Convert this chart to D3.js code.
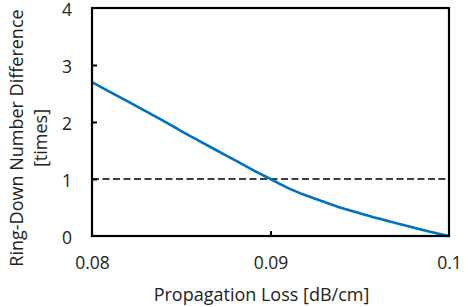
<!DOCTYPE html>
<html>
<head>
<meta charset="utf-8">
<script src="https://cdn.jsdelivr.net/npm/d3@7"></script>
<style>
  html, body { margin: 0; padding: 0; background: #fff; }
  svg text { font-family: "Open Sans", "Noto Sans", sans-serif; fill: #222; }
</style>
</head>
<body>
<script>
// Data
var lossValues = [0.080, 0.081, 0.082, 0.083, 0.084, 0.085, 0.086, 0.087, 0.088, 0.089, 0.090,
                  0.091, 0.092, 0.093, 0.094, 0.095, 0.096, 0.097, 0.098, 0.099, 0.100];
var ringDownDiff = [2.70, 2.53, 2.36, 2.19, 2.02, 1.84, 1.67, 1.50, 1.33, 1.16, 1.00,
                    0.84, 0.71, 0.60, 0.49, 0.40, 0.31, 0.23, 0.15, 0.07, 0.00];
var thresholdValue = 1;
var xTicks = [0.08, 0.09, 0.1];
var xTickLabels = ["0.08", "0.09", "0.1"];
var yTicks = [0, 1, 2, 3, 4];

var width = 468, height = 307;
var margin = {top: 8, right: 19, bottom: 71, left: 92};
var w = width - margin.left - margin.right,
    h = height - margin.top - margin.bottom;

var svg = d3.select("body").append("svg")
    .attr("width", width)
    .attr("height", height);

var g = svg.append("g")
    .attr("transform", "translate(" + margin.left + "," + margin.top + ")");

var xScale = d3.scaleLinear().domain([0.08, 0.1]).range([0, w]);
var yScale = d3.scaleLinear().domain([0, 4]).range([h, 0]);

// Axes (ticks inward)
var xAxis = d3.axisBottom(xScale).tickValues(xTicks)
    .tickFormat(function(d, i) { return xTickLabels[i]; })
    .tickSizeInner(-5).tickSizeOuter(0).tickPadding(21);
var yAxis = d3.axisLeft(yScale).tickValues(yTicks)
    .tickFormat(d3.format("d"))
    .tickSizeInner(-5).tickSizeOuter(0).tickPadding(20);

var gx = g.append("g").attr("class", "x axis")
    .attr("transform", "translate(0," + h + ")")
    .call(xAxis);
var gy = g.append("g").attr("class", "y axis").call(yAxis);

g.selectAll(".domain").remove();
g.selectAll(".tick line").attr("stroke", "#000").attr("stroke-width", 2);
g.selectAll(".tick text").style("font-size", "17.5px").attr("fill", "#222");
// end ticks sit on the frame, drop them
gx.selectAll(".tick line").filter(function(d) { return d === 0.08 || d === 0.1; }).remove();
gy.selectAll(".tick line").filter(function(d) { return d === 0 || d === 4; }).remove();
gx.selectAll(".tick text").attr("dy", "0.71em");
gy.selectAll(".tick text").attr("dy", "0.42em");

// Dashed threshold line
g.append("line")
    .attr("x1", 0).attr("x2", w)
    .attr("y1", yScale(thresholdValue)).attr("y2", yScale(thresholdValue))
    .attr("stroke", "#000")
    .attr("stroke-width", 1.6)
    .attr("stroke-dasharray", "7,3.5");

// Curve
var line = d3.line()
    .x(function(d, i) { return xScale(lossValues[i]); })
    .y(function(d) { return yScale(d); })
    .curve(d3.curveMonotoneX);

g.append("path")
    .datum(ringDownDiff)
    .attr("d", line)
    .attr("fill", "none")
    .attr("stroke", "#0070C0")
    .attr("stroke-width", 2.6);

// Frame
g.append("rect")
    .attr("x", 0).attr("y", 0)
    .attr("width", w).attr("height", h)
    .attr("fill", "none")
    .attr("stroke", "#000")
    .attr("stroke-width", 2.2);

// Axis titles
svg.append("text")
    .attr("x", margin.left + w / 2 - 9)
    .attr("y", 301)
    .attr("text-anchor", "middle")
    .style("font-size", "18px")
    .text("Propagation Loss [dB/cm]");

var yTitle = svg.append("text")
    .attr("transform", "translate(0,138) rotate(-90)")
    .attr("text-anchor", "middle")
    .style("font-size", "18px");
yTitle.append("tspan").attr("x", 0).attr("y", 23).text("Ring-Down Number Difference");
yTitle.append("tspan").attr("x", 0).attr("y", 47).text("[times]");
</script>
</body>
</html>
